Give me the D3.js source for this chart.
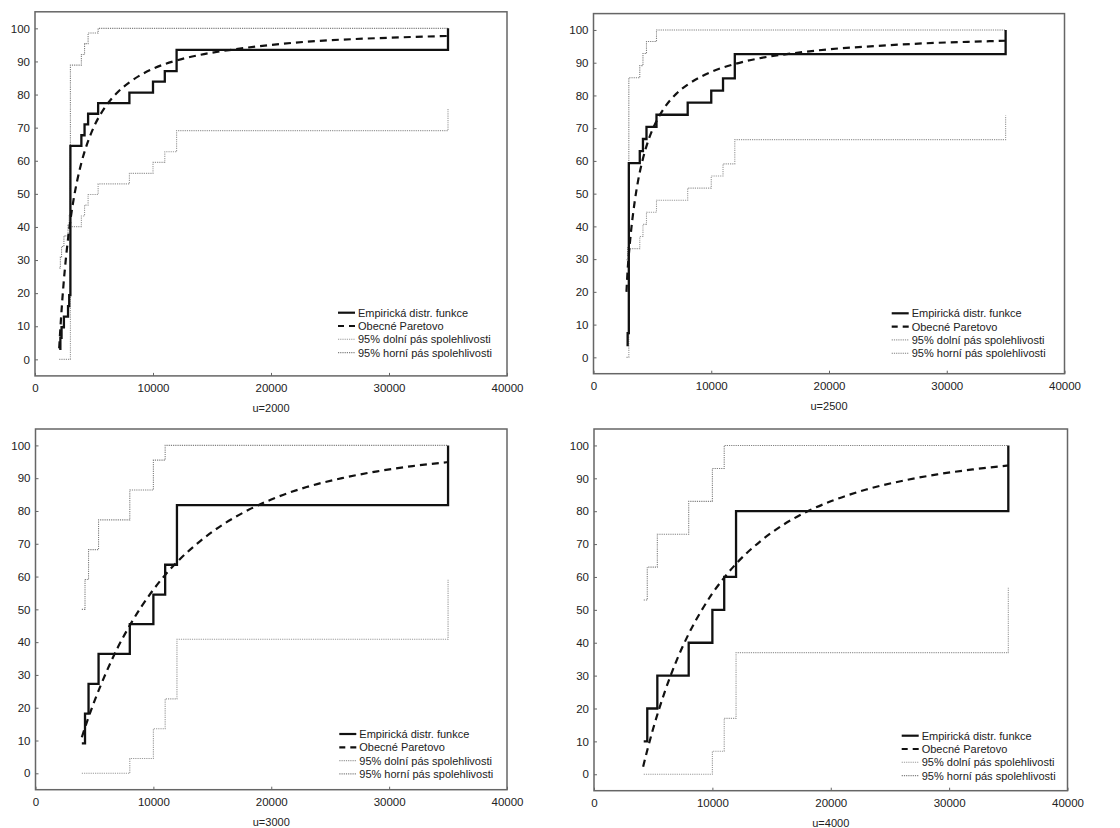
<!DOCTYPE html>
<html><head><meta charset="utf-8">
<script src="https://cdn.jsdelivr.net/npm/d3@7"></script>
<style>
body{margin:0;background:#fff}
svg{display:block;font-family:"Liberation Sans",Arial,sans-serif}
</style>
</head><body>
<svg id="chart" width="1120" height="828"></svg>
<script>
// ---------------- data ----------------
const panelTitles = ["u=2000", "u=2500", "u=3000", "u=4000"];
const xTicks = [0, 10000, 20000, 30000, 40000];
const yTicks = [0, 10, 20, 30, 40, 50, 60, 70, 80, 90, 100];
const legendLabels = ["Empirická distr. funkce", "Obecné Paretovo", "95% dolní pás spolehlivosti", "95% horní pás spolehlivosti"];

// u=2000
const stepX_2000 = [2050, 2150, 2250, 2450, 2800, 2900, 3000, 3930, 4200, 4500, 5350, 8000, 10000, 11000, 12000, 35000];
const empY_2000  = [3.2, 6.5, 9.7, 12.9, 16.1, 19.4, 64.5, 67.7, 71.0, 74.2, 77.4, 80.6, 83.9, 87.1, 93.5, 100];
const lowY_2000  = [0, 0, 0, 0, 0, 0, 40.1, 43.3, 46.6, 49.8, 53.0, 56.2, 59.5, 62.7, 69.1, 75.6];
const upY_2000   = [27.6, 30.9, 34.1, 37.3, 40.5, 43.8, 88.9, 92.1, 95.4, 98.6, 100, 100, 100, 100, 100, 100];
const parX_2000  = [2050, 2200, 2400, 2600, 2800, 3000, 3300, 3600, 4000, 4500, 5000, 6000, 7000, 8000, 9000, 10000, 12000, 14000, 17000, 20000, 24000, 28000, 32000, 35000];
const parY_2000  = [3.3, 12.1, 21.9, 29.8, 36.4, 42.0, 48.9, 54.4, 60.3, 65.9, 70.3, 76.5, 80.7, 83.7, 86.0, 87.8, 90.3, 92.0, 93.7, 95.0, 96.2, 96.9, 97.4, 97.7];

// u=2500
const stepX_2500 = [2800, 2900, 3000, 3930, 4200, 4500, 5350, 8000, 10000, 11000, 12000, 35000];
const empY_2500  = [3.7, 7.4, 59.3, 63.0, 66.7, 70.4, 74.1, 77.8, 81.5, 85.2, 92.6, 100];
const lowY_2500  = [0, 0, 33.2, 36.9, 40.6, 44.3, 48.0, 51.7, 55.4, 59.1, 66.5, 73.9];
const upY_2500   = [29.8, 33.5, 85.4, 89.1, 92.8, 96.5, 100, 100, 100, 100, 100, 100];
const parX_2500  = [2800, 2900, 3000, 3200, 3500, 3800, 4200, 4700, 5300, 6000, 7000, 8000, 9000, 10000, 12000, 14000, 17000, 20000, 24000, 28000, 32000, 35000];
const parY_2500  = [20.0, 26.7, 31.3, 38.9, 47.6, 54.2, 60.7, 66.7, 71.8, 76.1, 80.4, 83.3, 85.5, 87.2, 89.6, 91.3, 92.9, 94.1, 95.1, 95.9, 96.4, 96.7];

// u=3000
const stepX_3000 = [3930, 4200, 4500, 5350, 8000, 10000, 11000, 12000, 35000];
const empY_3000  = [9.1, 18.2, 27.3, 36.4, 45.5, 54.5, 63.6, 81.8, 100];
const lowY_3000  = [0, 0, 0, 0, 4.5, 13.6, 22.7, 40.9, 59.0];
const upY_3000   = [50.0, 59.1, 68.2, 77.3, 86.4, 95.5, 100, 100, 100];
const parX_3000  = [3930, 4500, 5000, 6000, 7000, 8000, 9000, 10000, 11000, 12000, 14000, 16000, 18000, 20000, 23000, 26000, 29000, 32000, 35000];
const parY_3000  = [11.0, 17.1, 22.0, 30.8, 38.5, 45.1, 50.9, 56.0, 60.5, 64.4, 70.9, 76.1, 80.2, 83.5, 87.3, 90.0, 92.1, 93.7, 94.9];

// u=4000
const stepX_4000 = [4200, 4500, 5350, 8000, 10000, 11000, 12000, 35000];
const empY_4000  = [10, 20, 30, 40, 50, 60, 80, 100];
const lowY_4000  = [0, 0, 0, 0, 7, 17, 37, 57];
const upY_4000   = [53, 63, 73, 83, 93, 100, 100, 100];
const parX_4000  = [4150, 4500, 5000, 6000, 7000, 8000, 9000, 10000, 11000, 12000, 14000, 16000, 18000, 20000, 23000, 26000, 29000, 32000, 35000];
const parY_4000  = [2.3, 7.3, 13.9, 25.3, 34.8, 42.7, 49.3, 55.0, 59.8, 64.0, 70.7, 75.9, 79.9, 83.0, 86.6, 89.2, 91.2, 92.7, 93.9];

// ---------------- layout ----------------
const panels = [
  {title: panelTitles[0], sx: stepX_2000, emp: empY_2000, low: lowY_2000, up: upY_2000, px: parX_2000, py: parY_2000},
  {title: panelTitles[1], sx: stepX_2500, emp: empY_2500, low: lowY_2500, up: upY_2500, px: parX_2500, py: parY_2500},
  {title: panelTitles[2], sx: stepX_3000, emp: empY_3000, low: lowY_3000, up: upY_3000, px: parX_3000, py: parY_3000},
  {title: panelTitles[3], sx: stepX_4000, emp: empY_4000, low: lowY_4000, up: upY_4000, px: parX_4000, py: parY_4000}
];
const boxes = [
  {x0: 35,    x1: 507,    yT: 11.8, yB: 375.9, lx: 338,   ly: 312.7},
  {x0: 593.5, x1: 1064.5, yT: 13.6, yB: 373.7, lx: 891.7, ly: 313.3},
  {x0: 35.5,  x1: 507,    yT: 429,  yB: 789.7, lx: 339.3, ly: 734},
  {x0: 594,   x1: 1067.5, yT: 429,  yB: 790.7, lx: 901.7, ly: 735.7}
];

const styles = {
  emp:  {stroke: "#111", width: 2.3, dash: null},
  par:  {stroke: "#111", width: 2.2, dash: "7,5"},
  low:  {stroke: "#9a9a9a", width: 1.1, dash: "1.2,1"},
  up:   {stroke: "#808080", width: 1.1, dash: "1.2,1"}
};

const svg = d3.select("#chart");

panels.forEach((p, i) => {
  const b = boxes[i];
  const x = d3.scaleLinear().domain([0, 40000]).range([b.x0, b.x1]);
  const y = d3.scaleLinear().domain([-5, 105]).range([b.yB, b.yT]);
  const g = svg.append("g");

  // axes
  const ya = g.append("g").attr("transform", `translate(${b.x0},0)`)
    .call(d3.axisLeft(y).tickValues(yTicks).tickSize(-3).tickPadding(5).tickFormat(d3.format("d")));
  const xa = g.append("g").attr("transform", `translate(0,${b.yB})`)
    .call(d3.axisBottom(x).tickValues(xTicks).tickSize(-3).tickPadding(8).tickFormat(d3.format("d")));
  [ya, xa].forEach(a => {
    a.select(".domain").remove();
    a.selectAll(".tick line").attr("stroke", "#666");
    a.selectAll(".tick text").attr("fill", "#222").style("font-size", "11.5px")
      .style("font-family", '"Liberation Sans",Arial,sans-serif');
  });

  // frame
  g.append("rect").attr("x", b.x0).attr("y", b.yT)
    .attr("width", b.x1 - b.x0).attr("height", b.yB - b.yT)
    .attr("fill", "none").attr("stroke", "#666").attr("stroke-width", 1.5);

  const step = d3.line().curve(d3.curveStepAfter).x(d => x(d[0])).y(d => y(d[1]));
  const smooth = d3.line().curve(d3.curveMonotoneX).x(d => x(d[0])).y(d => y(d[1]));

  const draw = (gen, xs, ys, st) => {
    g.append("path").datum(d3.zip(xs, ys)).attr("d", gen)
      .attr("fill", "none").attr("stroke", st.stroke).attr("stroke-width", st.width)
      .attr("stroke-dasharray", st.dash).attr("stroke-linejoin", "miter");
  };
  draw(step, p.sx, p.low, styles.low);
  draw(step, p.sx, p.up, styles.up);
  draw(smooth, p.px, p.py, styles.par);
  draw(step, p.sx, p.emp, styles.emp);

  // axis title
  g.append("text").attr("x", x(20000)).attr("y", b.yB + 36)
    .attr("text-anchor", "middle").attr("fill", "#222").style("font-size", "11px")
    .text(p.title);

  // legend
  const st = [styles.emp, styles.par, styles.low, styles.up];
  legendLabels.forEach((lab, k) => {
    const ly = b.ly + k * 13.3;
    g.append("line").attr("x1", b.lx).attr("x2", b.lx + 17).attr("y1", ly).attr("y2", ly)
      .attr("stroke", st[k].stroke).attr("stroke-width", k < 2 ? 2.2 : 1.1)
      .attr("stroke-dasharray", k === 1 ? "6,5" : st[k].dash);
    g.append("text").attr("x", b.lx + 20).attr("y", ly + 4)
      .attr("fill", "#222").style("font-size", "11px").text(lab);
  });
});
</script>
</body></html>
